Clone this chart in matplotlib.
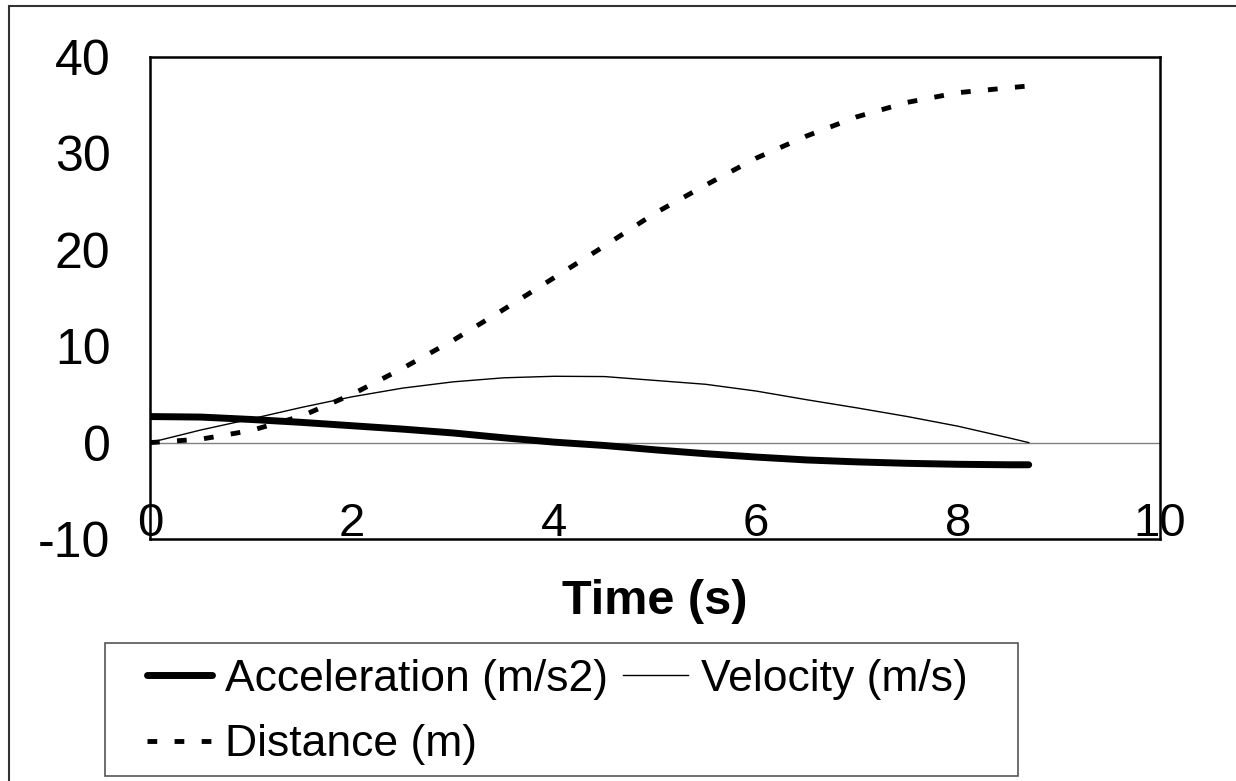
import matplotlib
matplotlib.use("Agg")
import matplotlib.pyplot as plt
from matplotlib.patches import Rectangle

plt.rcParams["font.family"] = ["Liberation Sans", "DejaVu Sans"]
plt.rcParams["lines.scale_dashes"] = False

# ---------------------------------------------------------------------------
# Data
# ---------------------------------------------------------------------------
time_s = [0, 0.5, 1.0, 1.5, 2.0, 2.5, 3.0, 3.5, 4.0, 4.5,
          5.0, 5.5, 6.0, 6.5, 7.0, 7.5, 8.0, 8.5, 8.7]

acceleration = [2.7, 2.65, 2.4, 2.1, 1.75, 1.4, 1.0, 0.5, 0.05, -0.3,
                -0.75, -1.15, -1.5, -1.8, -2.0, -2.15, -2.25, -2.3, -2.3]

velocity = [0.0, 1.3, 2.45, 3.65, 4.75, 5.65, 6.3, 6.72, 6.88, 6.85,
            6.45, 6.05, 5.35, 4.45, 3.6, 2.7, 1.7, 0.5, 0.0]

distance = [0.0, 0.35, 1.25, 2.75, 5.0, 7.7, 10.6, 13.8, 17.1, 20.4,
            23.8, 26.7, 29.5, 31.8, 33.8, 35.3, 36.3, 36.8, 37.0]

x_ticks = [0, 2, 4, 6, 8, 10]
y_ticks = [-10, 0, 10, 20, 30, 40]

# ---------------------------------------------------------------------------
# Figure
# ---------------------------------------------------------------------------
W, H = 1236, 781
fig = plt.figure(figsize=(W / 100, H / 100), dpi=100)
ax = fig.add_axes([150 / W, 1 - 539 / H, 1010 / W, 482 / H])

# outer chart-area border (runs off the right and bottom edges)
fig.patches.append(Rectangle((9 / W, -0.2), 1.5, 1.2 - 6 / H,
                             transform=fig.transFigure, fill=False,
                             edgecolor="#333333", linewidth=1.5, clip_on=False))

ax.axhline(0, color="#808080", linewidth=1.0, zorder=1)

l_acc, = ax.plot(time_s, acceleration, color="black", linewidth=5,
                 solid_capstyle="round", label="Acceleration (m/s2)")
l_vel, = ax.plot(time_s, velocity, color="black", linewidth=1.0,
                 label="Velocity (m/s)")
l_dist, = ax.plot(time_s, distance, color="black", linewidth=3.5,
                  dashes=(7, 12.5), label="Distance (m)")

ax.set_xlim(0, 10)
ax.set_ylim(-10, 40)
ax.set_xticks(x_ticks)
ax.set_xticklabels([str(t) for t in x_ticks])
ax.set_yticks(y_ticks)
ax.set_yticklabels([str(t) for t in y_ticks])
ax.tick_params(axis="both", length=0)
ax.tick_params(axis="y", pad=28.5, labelsize=36)
ax.tick_params(axis="x", pad=-27, labelsize=34)

ax.set_xlabel("Time (s)", fontsize=35, fontweight="bold", labelpad=24)

for side in ["left", "bottom", "top", "right"]:
    ax.spines[side].set_linewidth(1.8)
    ax.spines[side].set_color("black")

# legend box (fixed-size frame, like the original)
fig.patches.append(Rectangle((105 / W, 1 - 776 / H), 913 / W, 133 / H,
                             transform=fig.transFigure, fill=False,
                             edgecolor="#555555", linewidth=1.2))

fig.legend(handles=[l_acc, l_dist, l_vel], ncol=2, frameon=False,
           loc="upper left", bbox_to_anchor=(147 / W, 1 - 659 / H),
           borderpad=0, borderaxespad=0, fontsize=32,
           handlelength=1.46, handletextpad=0.29, columnspacing=0.34,
           labelspacing=0.55)

fig.savefig("out.png", dpi=100)
